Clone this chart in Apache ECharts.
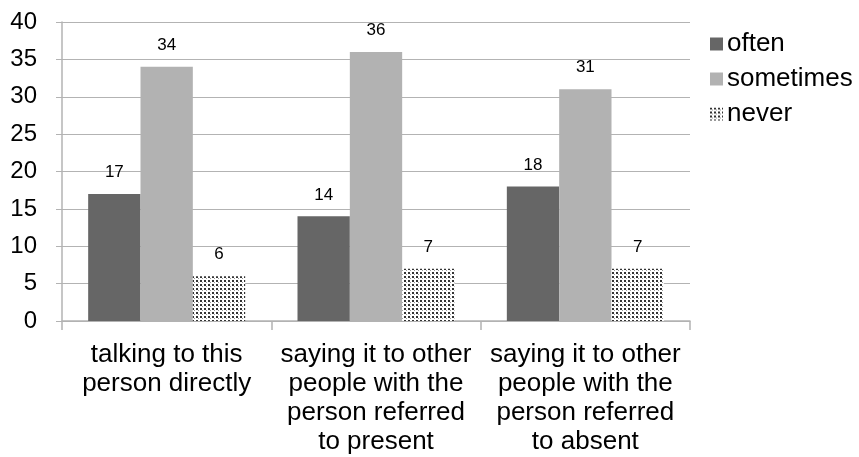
<!DOCTYPE html>
<html>
<head>
<meta charset="utf-8">
<script src="https://cdn.jsdelivr.net/npm/echarts@6/dist/echarts.min.js"></script>
<style>
html, body { margin: 0; padding: 0; background: #fff; }
#chart { width: 859px; height: 457px; }
</style>
</head>
<body>
<div id="chart"></div>
<script>
// 데이터
var categories = ['talking to this\nperson directly', 'saying it to other\npeople with the\nperson referred\nto present', 'saying it to other\npeople with the\nperson referred\nto absent'];
var seriesNames = ['often', 'sometimes', 'never'];
var often = [17, 14, 18];
var sometimes = [34, 36, 31];
var never = [6, 7, 7];

// 점무늬 패턴
var pat = document.createElement('canvas');
pat.width = 4;
pat.height = 4;
var ctx = pat.getContext('2d');
ctx.fillStyle = '#ffffff';
ctx.fillRect(0, 0, 4, 4);
ctx.fillStyle = '#333333';
ctx.fillRect(0, 0, 2, 2);
ctx.fillStyle = '#999999';
ctx.fillRect(2, 2, 1, 1);

var chart = echarts.init(document.getElementById('chart'));

var labelStyle = {
    show : true,
    position : 'top',
    distance : 13,
    color : '#000',
    fontSize : 17,
    fontFamily : 'Liberation Sans'
};

option = {
    backgroundColor : '#fff',
    animation : false,
    textStyle : { fontFamily : 'Liberation Sans' },
    grid : { left : 62, top : 22, right : 169, bottom : 136 },
    legend : {
        orient : 'vertical',
        left : 705,
        top : 26,
        itemWidth : 13,
        itemHeight : 13,
        itemGap : 9,
        icon : 'rect',
        textStyle : { fontSize : 26, color : '#000', padding : [0, 0, 0, -1] },
        data : seriesNames
    },
    xAxis : {
        type : 'category',
        data : categories,
        axisLine : { lineStyle : { color : '#b3b3b3', width : 1.5 } },
        axisTick : { show : true, length : 9, lineStyle : { color : '#b3b3b3', width : 1.5 } },
        axisLabel : { interval : 0, fontSize : 26, color : '#000', lineHeight : 29, margin : 19 }
    },
    yAxis : {
        type : 'value',
        min : 0,
        max : 40,
        interval : 5,
        axisLine : { show : true, lineStyle : { color : '#b3b3b3', width : 1.5 } },
        axisTick : { show : true, length : 6, lineStyle : { color : '#b3b3b3' } },
        axisLabel : { fontSize : 24, color : '#000', margin : 25 },
        splitLine : { lineStyle : { color : '#b3b3b3', width : 1 } }
    },
    series : [{
        name : 'often',
        type : 'bar',
        data : often,
        barGap : '0%',
        barCategoryGap : '25%',
        itemStyle : { color : '#666666' },
        label : labelStyle
    }, {
        name : 'sometimes',
        type : 'bar',
        data : sometimes,
        itemStyle : { color : '#b2b2b2' },
        label : labelStyle
    }, {
        name : 'never',
        type : 'bar',
        data : never,
        itemStyle : { color : { image : pat, repeat : 'repeat' } },
        label : labelStyle
    }]
};
chart.setOption(option);

window.addEventListener('resize', function() {
    chart.resize()
})
</script>
</body>
</html>
